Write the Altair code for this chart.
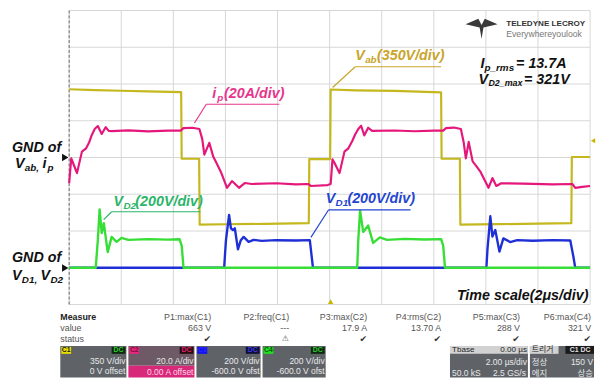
import altair as alt
import pandas as pd

# ---------------- waveform data (time in µs, values in channel units) ----------------
# C1: Vab [V], 350 V/div, 0 V offset
vab_t = [0.00, 1.00, 2.00, 3.00, 4.30, 4.32, 4.99, 5.01, 6.00, 7.50, 9.20, 9.22, 10.02, 10.04,
         11.00, 12.50, 14.28, 14.30, 15.00, 15.02, 16.50, 18.00, 19.28, 19.30, 20.00]
vab_v = [650, 642, 636, 630, 622, -12, -12, -640, -636, -632, -625, -15, -15, 648,
         640, 634, 620, -12, -12, -640, -635, -630, -625, 5, 5]

# C2: ip [A], 20 A/div, 0 A offset
ip_t = [0.00, 0.08, 0.15, 0.30, 0.49, 0.64, 0.76, 0.87, 0.98, 1.10, 1.25, 1.40, 1.52, 1.63,
        2.27, 3.03, 3.79, 4.28, 4.39, 4.73, 5.00, 5.11, 5.19, 5.38, 5.53, 5.68, 5.83, 6.06,
        6.25, 6.52, 6.74, 7.01, 7.95, 8.71, 9.17, 9.28, 9.92,
        10.04, 10.11, 10.19, 10.38, 10.57, 10.72, 10.87, 10.98, 11.10, 11.21, 11.33, 11.48,
        11.63, 12.50, 13.26, 14.02, 14.36, 14.47, 14.77, 15.04, 15.15, 15.23, 15.34, 15.49,
        15.64, 15.80, 16.10, 16.25, 16.40, 16.59, 17.42, 18.56, 19.32, 19.43, 19.70, 20.00]
ip_a = [-14.0, -0.5, -3.0, -8.5, 3.2, 4.8, 8.0, 12.3, 15.5, 17.1, 12.8, 16.5, 14.5, 14.4,
        14.8, 14.2, 14.6, 14.6, 16.0, 16.2, 15.5, 10.0, 1.6, 8.0, 0.5, -3.7, -8.0, -16.5,
        -12.8, -16.5, -13.9, -14.4, -14.0, -14.6, -14.4, -15.5, -15.0,
        -14.4, -1.0, -3.0, -8.5, 3.2, 5.0, 9.0, 12.5, 15.5, 17.3, 12.0, 16.2,
        14.5, 14.7, 14.3, 14.6, 14.6, 16.0, 16.3, 15.5, 8.0, -0.5, 8.5, -2.1,
        -4.8, -8.0, -16.5, -11.2, -15.5, -14.0, -14.2, -14.6, -14.4, -16.5, -16.0, -15.5]

# C3: VD1 [V], 200 V/div, -600 V offset
vd1_t = [0.00, 5.95, 6.02, 6.14, 6.21, 6.29, 6.36, 6.48, 6.59, 6.70, 6.89, 7.08, 7.39, 7.95,
         8.71, 9.24, 9.36, 16.02, 16.06, 16.17, 16.25, 16.36, 16.52, 16.67, 16.93, 17.20,
         17.80, 18.56, 19.24, 19.36, 19.43, 20.00]
vd1_v = [0, 0, 150, 288, 215, 205, 215, 100, 150, 168, 141, 152, 146, 150,
         148, 150, 0, 0, 100, 280, 170, 205, 88, 160, 140, 150,
         147, 150, 148, 60, 0, 0]

# C4: VD2 [V], 200 V/div, -600 V offset
vd2_t = [0.00, 1.02, 1.10, 1.17, 1.25, 1.33, 1.48, 1.63, 1.82, 2.01, 2.27, 3.03, 3.79, 4.24,
         4.32, 4.39, 11.06, 11.10, 11.17, 11.29, 11.48, 11.67, 11.93, 12.20, 12.88, 13.64,
         14.28, 14.36, 14.43, 20.00]
vd2_v = [0, 0, 150, 318, 189, 243, 85, 168, 141, 163, 152, 156, 153, 155,
         120, 0, 0, 150, 310, 195, 230, 135, 165, 152, 157, 154,
         156, 120, 0, 0]

grid_t = [0, 2, 4, 6, 8, 10, 12, 14, 16, 18, 20]
grid_d = [-4, -3, -2, -1, 0, 1, 2, 3, 4]

measure_names = ["P1:max(C1)", "P2:freq(C1)", "P3:max(C2)", "P4:rms(C2)", "P5:max(C3)", "P6:max(C4)"]
measure_values = ["663 V", "---", "17.9 A", "13.70 A", "288 V", "321 V"]

# ---------------- geometry helpers ----------------
W, H = 528, 298
X0, Y0 = 70.0, 8.0            # page position of plot origin
PX_US = W / 20.0
PX_DIV = H / 8.0


def tx(px):
    return (px - X0) / PX_US


def ty(py):
    return 4 - (py - Y0) / PX_DIV


xs = alt.Scale(domain=[0, 20], nice=False, zero=False)
ys = alt.Scale(domain=[-4, 4], nice=False, zero=False)

SANS = "Liberation Sans, Arial, Noto Sans CJK KR, sans-serif"

YEL, PINK, BLUE, GREEN = "#C4B81E", "#E5177B", "#1F2FD6", "#36DE36"
L_GOLD, L_PINK, L_GREEN, L_BLUE, BLK = "#C9A52C", "#E8358C", "#2BB56A", "#2445CF", "#111111"


def trace(t, v, vdiv, off, color, sw=2.2):
    df = pd.DataFrame({"t": t, "d": [(a + off) / vdiv for a in v], "i": list(range(len(t)))})
    return alt.Chart(df).mark_line(color=color, strokeWidth=sw, strokeJoin="round").encode(
        x=alt.X("t:Q", scale=xs, axis=None),
        y=alt.Y("d:Q", scale=ys, axis=None),
        order=alt.Order("i:Q"),
    )


# grid
vgrid = alt.Chart(pd.DataFrame({"t": grid_t, "lo": -4, "hi": 4})).mark_rule(
    color="#D6D6D6", strokeWidth=1).encode(
    x=alt.X("t:Q", scale=xs, axis=None), y=alt.Y("lo:Q", scale=ys, axis=None), y2="hi:Q")
hgrid = alt.Chart(pd.DataFrame({"d": grid_d, "lo": 0, "hi": 20})).mark_rule(
    color="#D6D6D6", strokeWidth=1).encode(
    y=alt.Y("d:Q", scale=ys, axis=None), x=alt.X("lo:Q", scale=xs, axis=None), x2="hi:Q")
left_edge = alt.Chart(pd.DataFrame({"t": [0], "lo": [-4], "hi": [4]})).mark_rule(
    color="#6A6A6A", strokeWidth=1, strokeDash=[3, 2]).encode(
    x=alt.X("t:Q", scale=xs, axis=None), y=alt.Y("lo:Q", scale=ys, axis=None), y2="hi:Q")

traces = [
    trace(vab_t, vab_v, 350, 0, YEL),
    trace(ip_t, ip_a, 20, 0, PINK),
    trace(vd1_t, vd1_v, 200, -600, BLUE, 2.4),
    trace(vd2_t, vd2_v, 200, -600, GREEN, 2.4),
]

# ---------------- annotation tables (page pixel positions) ----------------
M, S = 14.5, 10
lab = [
    ("GND of", 12, 147, M, BLK),
    ("V", 15, 164, M, BLK), ("ab,", 25, 168, S, BLK), ("i", 43, 164, M, BLK), ("p", 48, 168, S, BLK),
    ("GND of", 12, 259, M, BLK),
    ("V", 12, 277, M, BLK), ("D1,", 22, 281, S, BLK), ("V", 41, 277, M, BLK), ("D2", 51, 281, S, BLK),
    ("i", 215, 93, M, L_PINK), ("p", 220, 97, S, L_PINK), ("(20A/div)", 227, 93, M, L_PINK),
    ("V", 360, 54, M, L_GOLD), ("ab", 370, 58, S, L_GOLD), ("(350V/div)", 382, 54, M, L_GOLD),
    ("V", 115, 202, M, L_GREEN), ("D2", 125, 206, S, L_GREEN), ("(200V/div)", 137, 202, M, L_GREEN),
    ("V", 330, 199, M, L_BLUE), ("D1", 340, 203, S, L_BLUE), ("(200V/div)", 352, 199, M, L_BLUE),
    ("I", 487, 62, M, BLK), ("p_rms", 491, 66, S, BLK), ("= 13.7A", 523, 62, M, BLK),
    ("V", 485, 78, M, BLK), ("D2_max", 495, 82, 9, BLK), ("= 321V", 531, 78, M, BLK),
    ("Time scale(2μs/div)", 463, 297, M, BLK),
]


def mk(rows):
    df = pd.DataFrame(rows, columns=["s", "px", "py", "fs", "col"])
    df["x"] = df.px.map(tx)
    df["y"] = df.py.map(ty)
    return df


def text_layer(df, align="left", weight="normal", style="normal", font=SANS):
    return alt.Chart(df).mark_text(align=align, baseline="middle", font=font,
                                   fontWeight=weight, fontStyle=style).encode(
        x=alt.X("x:Q", scale=xs, axis=None), y=alt.Y("y:Q", scale=ys, axis=None),
        text="s:N", size=alt.Size("fs:Q", scale=None, legend=None),
        color=alt.Color("col:N", scale=None, legend=None))


ptr = [
    (197, 122, 209, 103, L_PINK), (209, 103, 283, 103, L_PINK),
    (337, 86, 360, 65, L_GOLD), (360, 65, 447, 65, L_GOLD),
    (105, 220, 113, 212, L_GREEN), (113, 212, 203, 212, L_GREEN),
    (315, 238, 333, 210, L_BLUE), (333, 210, 416, 210, L_BLUE),
]
ptr_df = pd.DataFrame(ptr, columns=["a", "b", "c", "e", "col"])
ptr_df["x"] = ptr_df.a.map(tx)
ptr_df["y"] = ptr_df.b.map(ty)
ptr_df["x2"] = ptr_df.c.map(tx)
ptr_df["y2"] = ptr_df.e.map(ty)
pointers = alt.Chart(ptr_df).mark_rule(strokeWidth=1.2).encode(
    x=alt.X("x:Q", scale=xs, axis=None), y=alt.Y("y:Q", scale=ys, axis=None),
    x2="x2:Q", y2="y2:Q", color=alt.Color("col:N", scale=None, legend=None))

# markers: ground arrows, trigger markers
mark_rows = [("triangle-right", 66, 157, 55, "#111111"), ("triangle-right", 66, 269, 55, "#111111"),
             ("triangle-up", 335, 303, 30, "#C9B400"), ("triangle-left", 601, 140, 25, "#C9B400")]
mdf = pd.DataFrame(mark_rows, columns=["shape", "px", "py", "sz", "col"])
mdf["x"] = mdf.px.map(tx)
mdf["y"] = mdf.py.map(ty)
markers = alt.Chart(mdf).mark_point(filled=True, opacity=1).encode(
    x=alt.X("x:Q", scale=xs, axis=None), y=alt.Y("y:Q", scale=ys, axis=None),
    shape=alt.Shape("shape:N", scale=None, legend=None),
    size=alt.Size("sz:Q", scale=None, legend=None),
    color=alt.Color("col:N", scale=None, legend=None))

# logo
logo_df = pd.DataFrame({"x": [tx(488)], "y": [ty(26)]})
logo = alt.Chart(logo_df).mark_point(
    filled=True, opacity=1, color="#3a3a3a", size=1050,
    shape="M -1 -0.25 L -0.2 -0.6 L 0 -0.2 L 0.2 -0.6 L 1 -0.25 L 0.12 -0.05 L 0 0.65 L -0.12 -0.05 Z"
).encode(x=alt.X("x:Q", scale=xs, axis=None), y=alt.Y("y:Q", scale=ys, axis=None))
logo_txt = text_layer(mk([("TELEDYNE LECROY", 513, 22, 8.2, "#333333")]), weight="bold")
logo_txt2 = text_layer(mk([("Everywhereyoulook", 513, 32, 8.8, "#777777")]))

# ---------------- bottom panel ----------------
GRAY_BOX = "#5f6368"
boxes = [
    (61, 348, 128, 380, GRAY_BOX),
    (130, 348, 197, 368, "#6e5a66"), (130, 368, 197, 380, "#D8287A"),
    (199, 348, 264, 380, GRAY_BOX),
    (266, 348, 330, 380, GRAY_BOX),
    (456, 348, 535, 380, GRAY_BOX), (456, 348, 535, 356, "#D2D2D2"),
    (537, 348, 602, 380, GRAY_BOX), (537, 348, 566, 356, "#D2D2D2"), (573, 348, 602, 356, "#1a1a1a"),
    (62, 349, 72, 356, "#E8DC00"), (113, 349, 127, 356, "#0d2a0d"),
    (131, 349, 141, 356, "#E8287E"), (182, 349, 196, 356, "#2a0d12"),
    (200, 349, 210, 356, "#1212F0"), (249, 349, 263, 356, "#10103a"),
    (267, 349, 277, 356, "#20E020"), (315, 349, 329, 356, "#0d2a0d"),
]
bdf = pd.DataFrame(boxes, columns=["a", "b", "c", "e", "col"])
bdf["x"] = bdf.a.map(tx)
bdf["y"] = bdf.b.map(ty)
bdf["x2"] = bdf.c.map(tx)
bdf["y2"] = bdf.e.map(ty)
panel = alt.Chart(bdf).mark_rect().encode(
    x=alt.X("x:Q", scale=xs, axis=None), y=alt.Y("y:Q", scale=ys, axis=None),
    x2="x2:Q", y2="y2:Q", color=alt.Color("col:N", scale=None, legend=None))

TBL = "#555555"
TS = 9
head_x = [214, 293, 372, 447, 527, 599]
tbl_right = [(n, px, 319, TS, TBL) for n, px in zip(measure_names, head_x)] + \
            [(v, px, 330, TS, TBL) for v, px in zip(measure_values, head_x)]
tbl_left = [("value", 61, 330, TS, TBL), ("status", 61, 341, TS, TBL)]
tbl_bold = [("Measure", 61, 319, TS, "#222222")]
checks = [("✔", px - 4, 341, 9, "#333333") for px, v in zip(head_x, measure_values) if v != "---"] + \
         [("⚠", 289, 341, 8, "#555555")]

LT = "#E8E8E8"
BS = 8.6
box_right = [("350 V/div", 127, 363, BS, LT), ("0 V offset", 127, 373, BS, LT),
             ("20.0 A/div", 196, 363, BS, LT), ("0.00 A offset", 196, 374, BS, "#FFD6E6"),
             ("200 V/div", 263, 363, BS, LT), ("-600.0 V ofst", 263, 373, BS, LT),
             ("200 V/div", 329, 363, BS, LT), ("-600.0 V ofst", 329, 373, BS, LT),
             ("0.00 µs", 534, 352, 8.2, "#222222"),
             ("2.00 µs/div", 534, 364, BS, LT), ("2.5 GS/s", 533, 375, BS, LT),
             ("150 V", 601, 364, BS, LT), ("상승", 601, 375, 8.5, LT)]
box_left = [("Tbase", 458, 352, 8.2, "#222222"), ("50.0 kS", 458, 375, BS, LT),
            ("트리거", 539, 352, 8, "#222222"), ("정상", 539, 364, 8.5, LT), ("에지", 539, 375, 8.5, LT)]
tags = [("C1", 67, 352.5, 7, "#222222"), ("DC", 120, 352.5, 7, "#33CC33"),
        ("C2", 136, 352.5, 7, "#7a0f3c"), ("DC", 189, 352.5, 7, "#E0206A"),
        ("C3", 205, 352.5, 7, "#2a2aff"), ("DC", 256, 352.5, 7, "#3a3ae0"),
        ("C4", 272, 352.5, 7, "#0d5a0d"), ("DC", 322, 352.5, 7, "#33CC33"),
        ("C1 DC", 588, 352.5, 7, "#E0E0E0")]

layers = [vgrid, hgrid, left_edge] + traces + [
    pointers,
    text_layer(mk(lab), weight="bold", style="italic"),
    markers, logo, logo_txt, logo_txt2,
    panel,
    text_layer(mk(tbl_right), align="right"),
    text_layer(mk(tbl_left)),
    text_layer(mk(tbl_bold), weight="bold"),
    text_layer(mk(checks), align="center", font="DejaVu Sans"),
    text_layer(mk(box_right), align="right"),
    text_layer(mk(box_left)),
    text_layer(mk(tags), align="center", weight="bold"),
]

chart = alt.layer(*layers).properties(
    width=W, height=H,
    autosize=alt.AutoSizeParams(type="none"),
    padding={"left": 62, "top": 0, "right": 6, "bottom": 75},
    background="white",
).configure_view(stroke=None)

chart.save("out.html", embed_options={"renderer": "svg", "actions": False})
